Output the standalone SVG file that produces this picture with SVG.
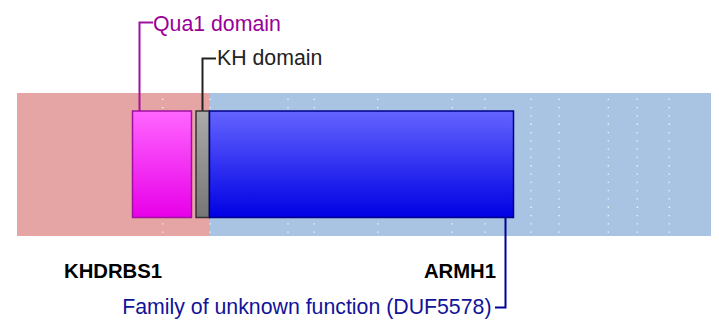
<svg xmlns="http://www.w3.org/2000/svg" width="719" height="326" viewBox="0 0 719 326">
<defs>
<linearGradient id="gPink" x1="0" y1="0" x2="0" y2="1"><stop offset="0" stop-color="#ff66ff"/><stop offset="1" stop-color="#e800e8"/></linearGradient>
<linearGradient id="gGrey" x1="0" y1="0" x2="0" y2="1"><stop offset="0" stop-color="#ababab"/><stop offset="1" stop-color="#767676"/></linearGradient>
<linearGradient id="gBlue" x1="0" y1="0" x2="0" y2="1"><stop offset="0" stop-color="#6464ff"/><stop offset="1" stop-color="#0000e4"/></linearGradient>
</defs>
<style>
.t{font-family:"Liberation Sans",Arial,sans-serif;font-size:21.3px}
.b{font-family:"Liberation Sans",Arial,sans-serif;font-size:20.3px;font-weight:bold;fill:#000}
.dot{stroke:#ffffff;stroke-opacity:0.85;stroke-width:1.3;stroke-dasharray:1.3 7;fill:none}
.conn{fill:none;stroke-width:2}
</style>
<g id="background">
<rect x="17" y="93" width="193" height="143" fill="#e6a5a5"/>
<rect x="210" y="93" width="501" height="143" fill="#a8c4e2"/>
<g id="gridlines">
<line class="dot" x1="162.7" y1="98.7" x2="162.7" y2="236"/>
<line class="dot" x1="210" y1="98.7" x2="210" y2="236"/>
<line class="dot" x1="288" y1="98.7" x2="288" y2="236"/>
<line class="dot" x1="314.3" y1="98.7" x2="314.3" y2="236"/>
<line class="dot" x1="377.7" y1="98.7" x2="377.7" y2="236"/>
<line class="dot" x1="452.3" y1="98.7" x2="452.3" y2="236"/>
<line class="dot" x1="485" y1="98.7" x2="485" y2="236"/>
<line class="dot" x1="531" y1="98.7" x2="531" y2="236"/>
<line class="dot" x1="559" y1="98.7" x2="559" y2="236"/>
<line class="dot" x1="608.3" y1="98.7" x2="608.3" y2="236"/>
<line class="dot" x1="637.3" y1="98.7" x2="637.3" y2="236"/>
<line class="dot" x1="669.3" y1="98.7" x2="669.3" y2="236"/>
</g>
</g>
<g id="connectors">
<path class="conn" d="M139.5,111 V22.5 H153" stroke="#a010a0"/>
<path class="conn" d="M202.5,111 V58.5 H216" stroke="#222222"/>
<path class="conn" d="M505.5,217 V307.5 H495" stroke="#000099"/>
</g>
<g id="qua1">
<rect x="132.5" y="111" width="59" height="106.5" fill="url(#gPink)" stroke="#a010a0" stroke-width="1.5"/>
<text class="t" x="153" y="30.5" fill="#990099">Qua1 domain</text>
</g>
<g id="kh">
<rect x="196" y="111" width="13.3" height="106.5" fill="url(#gGrey)" stroke="#333333" stroke-width="1.5"/>
<text class="t" x="217" y="65" fill="#222222">KH domain</text>
</g>
<g id="duf5578">
<rect x="209.5" y="111" width="304" height="106.5" fill="url(#gBlue)" stroke="#00008a" stroke-width="1.5"/>
<text class="t" x="491.5" y="314" text-anchor="end" fill="#12129a">Family of unknown function (DUF5578)</text>
</g>
<g id="khdrbs1">
<text class="b" x="64" y="278">KHDRBS1</text>
</g>
<g id="armh1">
<text class="b" x="496" y="278" text-anchor="end">ARMH1</text>
</g>
</svg>
